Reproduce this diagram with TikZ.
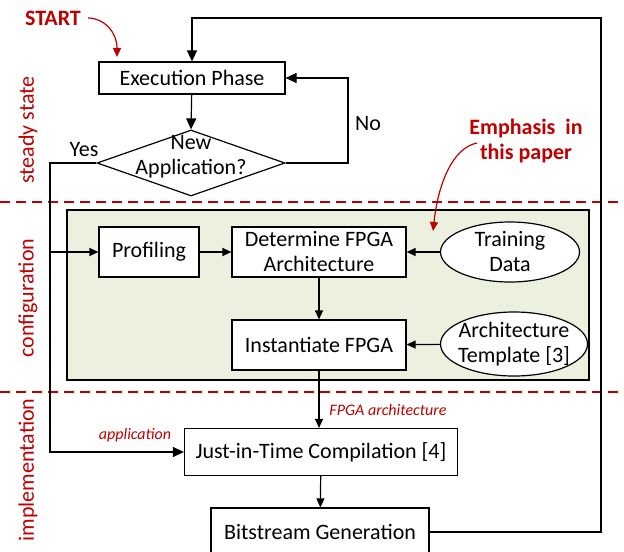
\documentclass[tikz,border=0pt]{standalone}
\usepackage{fontspec}
\setmainfont{Carlito}
\usepackage{xcolor}
\usepackage{tikz}
\usetikzlibrary{arrows.meta,positioning,shapes.geometric}
\definecolor{cR}{HTML}{C00000}
\definecolor{cG}{HTML}{EBF1DE}
\tikzset{
  blk/.style={draw,fill=white,inner sep=2pt,align=center,font=\fontsize{11}{12.5}\selectfont},
  ellip/.style={draw,ellipse,fill=white,inner sep=0pt},
  txt/.style={align=center,font=\fontsize{11}{12.5}\selectfont},
  arr/.style={-{Triangle[length=5.5pt,width=5pt]}},
  arrs/.style={-{Triangle[length=4.5pt,width=4pt]}},
  rarr/.style={cR,-{Triangle[length=4.5pt,width=4pt]}},
  sect/.style={cR,rotate=90,font=\fontsize{11}{12.5}\selectfont},
  note/.style={cR,font=\fontsize{8}{9}\selectfont\itshape},
  cut/.style={cR,dash pattern=on 5pt off 3pt}}

\begin{document}
\begin{tikzpicture}[x=0.5pt,y=-0.5pt,line width=0.6pt]
  \clip (0,0) rectangle (624,551);
  % stage borders and names
  \draw[cut] (0,202) -- (624,202);
  \draw[cut] (0,392) -- (624,392);
  \node[sect] (ss) at (28,130) {steady state};
  \node[sect] (cf) at (28,298) {configuration};
  \node[sect] (im) at (28,470) {implementation};
  % configuration block
  \node[draw,fill=cG,minimum width=261pt,minimum height=85pt,inner sep=0pt] (cfg) at (328,295) {};
  % steps
  \node[blk,minimum width=93pt,minimum height=16pt] (exec) at (192,78) {Execution Phase};
  \node[draw,diamond,fill=white,minimum width=94pt,minimum height=33pt,inner sep=0pt,
        label={[txt,yshift=3pt]center:New\\Application?}] (dec) at (191,163) {};
  \node[blk,minimum width=50pt,minimum height=25pt] (prof) at (149,252) {Profiling};
  \node[blk,minimum width=87pt,minimum height=25pt] (det) at (319,252) {Determine FPGA\\Architecture};
  \node[blk,minimum width=87pt,minimum height=25pt] (inst) at (319,345) {Instantiate FPGA};
  \node[ellip,minimum width=69.5pt,minimum height=30pt,
        label={[txt]center:Training\\Data}] (train) at (510,252) {};
  \node[ellip,minimum width=73.5pt,minimum height=32pt,
        label={[txt]center:Architecture\\Template [3]}] (tmpl) at (514,344) {};
  \node[blk,minimum width=136.5pt,minimum height=23.5pt] (jit) at (321,452) {Just-in-Time Compilation [4]};
  \node[blk,minimum width=109pt,minimum height=24pt] (bit) at (320,532) {Bitstream Generation};
  % flow
  \coordinate (ret) at (601,18);
  \coordinate (no) at (348,78);
  \coordinate (yes) at (50,163);
  \draw[arr] (bit.east) -| (ret) -| (exec.north);
  \draw[arr] (exec) -- (dec.north);
  \draw[arr] (dec.east) -| (no) -- (exec.east);
  \draw[arr] (dec.west) -- (yes) |- (jit.west);
  \draw[arrs] (yes |- prof) -- (prof.west);
  \draw[arrs] (prof) -- (det);
  \draw[arrs] (train) -- (det);
  \draw[arrs] (det) -- (inst);
  \draw[arrs] (tmpl) -- (inst);
  \draw[arrs] (inst.south) -- (inst.south |- jit.north);
  \draw[arrs] (jit) -- (bit);
  \node[txt] (nol) at (368,124) {No};
  \node[txt] (yesl) at (84,150) {Yes};
  \node[note] (fa) at (388,410) {FPGA architecture};
  \node[note] (ap) at (135,435) {application};
  % remarks
  \node[cR,font=\fontsize{11}{12.5}\selectfont\bfseries] (start) at (53,18) {START};
  \draw[rarr] (start.east) .. controls (104,18) and (117,32) .. (117,57);
  \node[cR,align=center,font=\fontsize{11}{12.5}\selectfont\bfseries] (emph) at (526,141) {Emphasis\ \ in\\this paper};
  \draw[rarr] (477,143) .. controls (452,148) and (438,185) .. (433,231);
\end{tikzpicture}
\end{document}
